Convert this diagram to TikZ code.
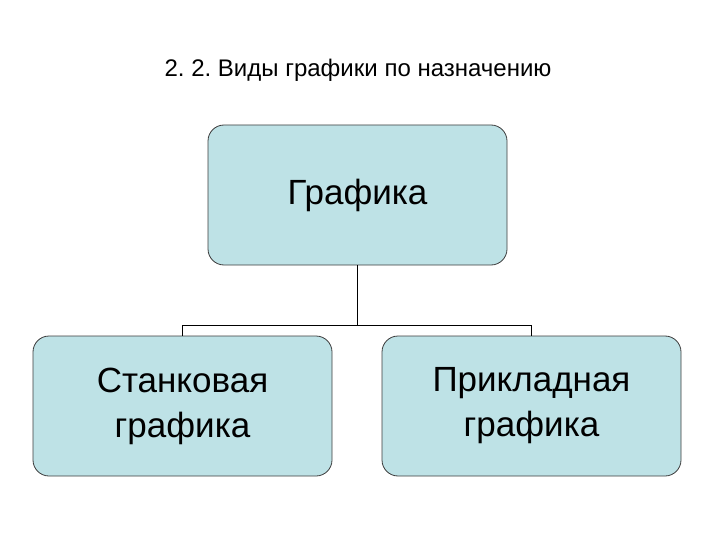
\documentclass[tikz,border=0pt]{standalone}
\usepackage{fontspec}
\setmainfont{Liberation Sans}
\definecolor{boxfill}{RGB}{190,226,230}
\definecolor{boxline}{RGB}{60,60,60}
\begin{document}
\frenchspacing
\begin{tikzpicture}[x=1pt,y=-1pt,
  box/.style={draw=boxline,line width=0.8pt,fill=boxfill,rounded corners=16pt,minimum width=299pt,minimum height=140pt,align=center,font=\fontsize{35}{45}\selectfont},
  conn/.style={draw=black,line width=1pt}]
\useasboundingbox (0,0) rectangle (720,540);
\node at (358,70) {\fontsize{24}{28}\selectfont 2. 2. Виды графики по назначению};
\node[box] (top) at (357.5,195) {Графика};
\node[box] (l) at (182.5,406) {Станковая\\ графика};
\node[box] (r) at (531.5,406) {Прикладная\\ графика};
\coordinate (m) at (357.5,325);
\draw[conn] (top.south) -- (m);
\draw[conn] (l.north) -- (l.north |- m) -- (r.north |- m) -- (r.north);
\end{tikzpicture}
\end{document}
